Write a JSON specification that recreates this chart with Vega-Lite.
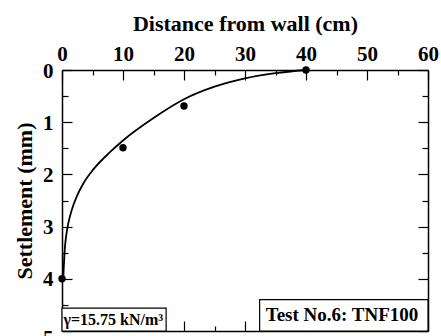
{
  "$schema": "https://vega.github.io/schema/vega-lite/v6.json",
  "width": 366,
  "height": 261,
  "autosize": {"type": "none"},
  "padding": {"left": 62, "top": 70, "right": 13, "bottom": 5},
  "background": "white",
  "view": {"stroke": null},
  "config": {
    "font": "Liberation Serif",
    "axis": {
      "domainColor": "black",
      "domainWidth": 1.5,
      "tickColor": "black",
      "tickWidth": 1.2,
      "labelFont": "Liberation Serif",
      "labelFontWeight": "bold",
      "labelFontSize": 21,
      "labelColor": "black",
      "titleFont": "Liberation Serif",
      "titleFontWeight": "bold",
      "titleFontSize": 22,
      "titleColor": "black",
      "grid": false,
      "labelFlush": false,
      "labelOverlap": false
    }
  },
  "datasets": {
    "curve": [
      {"distance": 0.2, "settlement": 4.0},
      {"distance": 0.3, "settlement": 3.76},
      {"distance": 0.45, "settlement": 3.44},
      {"distance": 0.67, "settlement": 3.19},
      {"distance": 1.05, "settlement": 2.93},
      {"distance": 1.6, "settlement": 2.68},
      {"distance": 2.43, "settlement": 2.42},
      {"distance": 3.52, "settlement": 2.17},
      {"distance": 5.17, "settlement": 1.9},
      {"distance": 7.9, "settlement": 1.57},
      {"distance": 10, "settlement": 1.35},
      {"distance": 15, "settlement": 0.92},
      {"distance": 20, "settlement": 0.56},
      {"distance": 25, "settlement": 0.32},
      {"distance": 30, "settlement": 0.16},
      {"distance": 35, "settlement": 0.06},
      {"distance": 40, "settlement": 0.0}
    ],
    "obs": [
      {"distance": 0, "settlement": 4.0},
      {"distance": 10, "settlement": 1.49},
      {"distance": 20, "settlement": 0.69},
      {"distance": 40, "settlement": 0.0}
    ]
  },
  "layer": [
    {
      "data": {"name": "curve"},
      "mark": {"type": "line", "color": "black", "strokeWidth": 1.8, "interpolate": "monotone"},
      "encoding": {
        "x": {
          "field": "distance", "type": "quantitative",
          "scale": {"domain": [0, 60], "nice": false, "zero": false},
          "axis": {
            "orient": "top",
            "title": "Distance from wall (cm)",
            "values": [0, 5, 10, 15, 20, 25, 30, 35, 40, 45, 50, 55, 60],
            "format": "d",
            "labelExpr": "datum.value % 10 === 0 ? datum.label : ''",
            "tickSize": {"condition": {"test": "datum.value % 10 === 0", "value": -10}, "value": -5},
            "labelPadding": 16,
            "titlePadding": 3
          }
        },
        "y": {
          "field": "settlement", "type": "quantitative",
          "scale": {"domain": [0, 5], "nice": false, "reverse": true},
          "axis": {
            "orient": "left",
            "title": "Settlement (mm)",
            "values": [0, 0.5, 1, 1.5, 2, 2.5, 3, 3.5, 4, 4.5, 5],
            "labelExpr": "datum.value % 1 === 0 ? format(datum.value, 'd') : ''",
            "tickSize": {"condition": {"test": "datum.value % 1 === 0", "value": -10}, "value": -6},
            "labelOffset": {"condition": {"test": "datum.value === 5", "value": 7}, "value": 1},
            "labelPadding": 19,
            "titlePadding": 6
          }
        }
      }
    },
    {
      "data": {"name": "obs"},
      "mark": {"type": "circle", "color": "black", "size": 55, "opacity": 1},
      "encoding": {
        "x": {
          "field": "distance", "type": "quantitative",
          "scale": {"domain": [0, 60], "nice": false, "zero": false},
          "axis": {
            "orient": "bottom", "title": null, "labels": false, "zindex": 0,
            "values": [0, 5, 10, 15, 20, 25, 30, 35, 40, 45, 50, 55, 60],
            "tickSize": {"condition": {"test": "datum.value % 10 === 0", "value": -10}, "value": -5}
          }
        },
        "y": {
          "field": "settlement", "type": "quantitative",
          "scale": {"domain": [0, 5], "nice": false, "reverse": true},
          "axis": {
            "orient": "right", "title": null, "labels": false, "zindex": 0,
            "values": [0, 0.5, 1, 1.5, 2, 2.5, 3, 3.5, 4, 4.5, 5],
            "tickSize": {"condition": {"test": "datum.value % 1 === 0", "value": -10}, "value": -6}
          }
        }
      }
    },
    {
      "data": {"values": [{}]},
      "mark": {"type": "rect", "fill": "white", "stroke": "black", "strokeWidth": 1.2},
      "encoding": {
        "x": {"datum": 0, "type": "quantitative", "axis": null},
        "x2": {"datum": 17.07},
        "y": {"datum": 4.56, "type": "quantitative", "axis": null},
        "y2": {"datum": 5}
      }
    },
    {
      "data": {"values": [{}]},
      "mark": {"type": "text", "text": "γ=15.75 kN/m³", "font": "Liberation Serif", "fontWeight": "bold", "fontSize": 16, "color": "black", "align": "center", "baseline": "middle"},
      "encoding": {
        "x": {"datum": 8.4, "type": "quantitative", "axis": null},
        "y": {"datum": 4.78, "type": "quantitative", "axis": null}
      }
    },
    {
      "data": {"values": [{}]},
      "mark": {"type": "rect", "fill": "white", "stroke": "black", "strokeWidth": 1.2},
      "encoding": {
        "x": {"datum": 32.4, "type": "quantitative", "axis": null},
        "x2": {"datum": 60},
        "y": {"datum": 4.4, "type": "quantitative", "axis": null},
        "y2": {"datum": 5}
      }
    },
    {
      "data": {"values": [{}]},
      "mark": {"type": "text", "text": "Test No.6: TNF100", "font": "Liberation Serif", "fontWeight": "bold", "fontSize": 19, "color": "black", "align": "center", "baseline": "middle"},
      "encoding": {
        "x": {"datum": 45.9, "type": "quantitative", "axis": null},
        "y": {"datum": 4.69, "type": "quantitative", "axis": null}
      }
    }
  ],
  "resolve": {"axis": {"x": "independent", "y": "independent"}}
}
